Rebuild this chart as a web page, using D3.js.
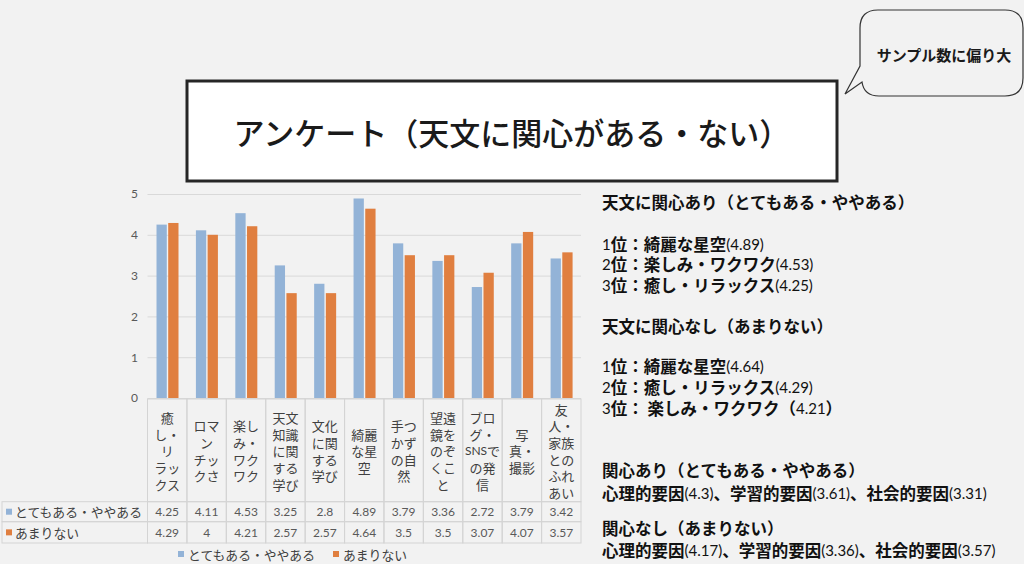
<!DOCTYPE html>
<html>
<head>
<meta charset="utf-8">
<script src="https://cdn.jsdelivr.net/npm/d3@7"></script>
<style>
  html, body { margin: 0; padding: 0; background: #f2f2f2; }
  svg { display: block; }
</style>
</head>
<body>
<svg id="chart" width="1024" height="564"></svg>
<script>
// survey data: average score per reason, by interest group
const categories = ["癒し・リラックス", "ロマンチックさ", "楽しみ・ワクワク", "天文知識に関する学び", "文化に関する学び",
  "綺麗な星空", "手つかずの自然", "望遠鏡をのぞくこと", "ブログ・SNSでの発信", "写真・撮影", "友人・家族とのふれあい"];
// how the category names wrap inside the table header
const labelLines = [
  ["癒", "し・", "リ", "ラッ", "クス"],
  ["ロマ", "ン", "チッ", "クさ"],
  ["楽し", "み・", "ワク", "ワク"],
  ["天文", "知識", "に関", "する", "学び"],
  ["文化", "に関", "する", "学び"],
  ["綺麗", "な星", "空"],
  ["手つ", "かず", "の自", "然"],
  ["望遠", "鏡を", "のぞ", "くこ", "と"],
  ["ブロ", "グ・", "SNSで", "の発", "信"],
  ["写", "真・", "撮影"],
  ["友", "人・", "家族", "との", "ふれ", "あい"]
];
const seriesNames = ["とてもある・ややある", "あまりない"];
const interested = [4.25, 4.11, 4.53, 3.25, 2.8, 4.89, 3.79, 3.36, 2.72, 3.79, 3.42];
const notInterested = [4.29, 4, 4.21, 2.57, 2.57, 4.64, 3.5, 3.5, 3.07, 4.07, 3.57];
const yTicks = [0, 1, 2, 3, 4, 5];

const titleText = "アンケート（天文に関心がある・ない）";
const bubbleText = "サンプル数に偏り大";
const notes = [
  { text: "天文に関心あり（とてもある・ややある）", y: 202 },
  { text: "1位：綺麗な星空(4.89)", y: 244 },
  { text: "2位：楽しみ・ワクワク(4.53)", y: 264 },
  { text: "3位：癒し・リラックス(4.25)", y: 285 },
  { text: "天文に関心なし（あまりない）", y: 326 },
  { text: "1位：綺麗な星空(4.64)", y: 366 },
  { text: "2位：癒し・リラックス(4.29)", y: 387 },
  { text: "3位： 楽しみ・ワクワク（4.21）", y: 408 },
  { text: "関心あり（とてもある・ややある）", y: 470 },
  { text: "心理的要因(4.3)、学習的要因(3.61)、社会的要因(3.31)", y: 493 },
  { text: "関心なし（あまりない）", y: 528 },
  { text: "心理的要因(4.17)、学習的要因(3.36)、社会的要因(3.57)", y: 550 }
];

const colors = ["#93b3d7", "#e07f40"];
const series = [interested, notInterested];
const cjk = "'Noto Sans CJK JP', 'Noto Sans', sans-serif";
const latin = "Lato, 'Noto Sans', sans-serif";

const svg = d3.select("#chart");
svg.append("rect").attr("width", 1024).attr("height", 564).attr("fill", "#f2f2f2");

// mixed text: Japanese runs in the CJK font, ascii runs in a narrower latin font
function addRuns(sel, str, cjkSize, latinSize, cjkWeight, latinWeight) {
  str.split(/([\x21-\x7E]+)/).filter(s => s.length).forEach(part => {
    const isLatin = /^[\x21-\x7E]+$/.test(part);
    sel.append("tspan")
      .attr("font-family", isLatin ? latin : cjk)
      .attr("font-size", isLatin ? latinSize : cjkSize)
      .attr("font-weight", isLatin ? latinWeight : cjkWeight)
      .text(part);
  });
}

// ---- chart geometry
const left = 147.5, right = 581;
const y = d3.scaleLinear().domain([0, 5]).range([398, 194]);
const x = d3.scaleBand().domain(d3.range(categories.length)).range([left, right]).padding(0);
const xs = d3.scaleBand().domain([0, 1]).range([9, 31]).paddingInner(0.12);

// gridlines
svg.append("g")
  .attr("transform", `translate(${left},0)`)
  .call(d3.axisLeft(y).tickValues(yTicks).tickSize(-(right - left)).tickFormat(""))
  .call(g => g.select(".domain").remove())
  .call(g => g.selectAll("line").attr("stroke", "#d9d9d9").attr("stroke-width", 1));

// y tick labels
svg.append("g")
  .attr("transform", `translate(138,0)`)
  .call(d3.axisLeft(y).tickValues(yTicks).tickSize(0).tickPadding(0).tickFormat(d3.format("d")))
  .call(g => g.select(".domain").remove())
  .call(g => g.selectAll("text").attr("font-family", latin).attr("font-size", 12).attr("fill", "#595959"));

// bars
series.forEach((vals, s) => {
  svg.append("g").selectAll("rect")
    .data(vals)
    .join("rect")
    .attr("x", (d, i) => x(i) + xs(s))
    .attr("width", xs.bandwidth())
    .attr("y", d => y(d))
    .attr("height", d => y(0) - y(d))
    .attr("fill", colors[s]);
});

// ---- data table
const tTop = 399, hBottom = 501.7, r1Bottom = 521.7, r2Bottom = 543;
const rowTops = [hBottom, r1Bottom];
const rowBottoms = [r1Bottom, r2Bottom];
const tableLeft = 2;
const border = "#d4d4d4";
const tg = svg.append("g");

// header cells
tg.selectAll("rect.hd")
  .data(categories)
  .join("rect")
  .attr("class", "hd")
  .attr("x", (d, i) => x(i))
  .attr("y", tTop)
  .attr("width", x.bandwidth())
  .attr("height", hBottom - tTop)
  .attr("fill", "none")
  .attr("stroke", border);

// header labels
const lineH = 16.7;
labelLines.forEach((lines, i) => {
  const cy = (tTop + hBottom) / 2;
  lines.forEach((ln, k) => {
    const t = tg.append("text")
      .attr("x", x(i) + x.bandwidth() / 2)
      .attr("y", cy + (k - (lines.length - 1) / 2) * lineH)
      .attr("text-anchor", "middle")
      .attr("dominant-baseline", "central")
      .attr("fill", "#404040");
    addRuns(t, ln, 13, 12, 400, 400);
  });
});

// value rows
series.forEach((vals, s) => {
  tg.append("rect")
    .attr("x", tableLeft).attr("y", rowTops[s])
    .attr("width", left - tableLeft).attr("height", rowBottoms[s] - rowTops[s])
    .attr("fill", "none").attr("stroke", border);
  tg.append("rect")
    .attr("x", 6).attr("y", (rowTops[s] + rowBottoms[s]) / 2 - 3)
    .attr("width", 6).attr("height", 6)
    .attr("fill", colors[s]);
  tg.append("text")
    .attr("x", 15).attr("y", (rowTops[s] + rowBottoms[s]) / 2)
    .attr("dominant-baseline", "central")
    .attr("font-family", cjk).attr("font-size", 12.8).attr("fill", "#404040")
    .text(seriesNames[s]);

  tg.selectAll(null)
    .data(vals)
    .join("rect")
    .attr("x", (d, i) => x(i)).attr("y", rowTops[s])
    .attr("width", x.bandwidth()).attr("height", rowBottoms[s] - rowTops[s])
    .attr("fill", "none").attr("stroke", border);
  tg.selectAll(null)
    .data(vals)
    .join("text")
    .attr("x", (d, i) => x(i) + x.bandwidth() / 2)
    .attr("y", (rowTops[s] + rowBottoms[s]) / 2)
    .attr("text-anchor", "middle")
    .attr("dominant-baseline", "central")
    .attr("font-family", latin).attr("font-size", 12).attr("fill", "#595959")
    .text(d => d);
});

// legend under the table
const legendX = [178, 333];
seriesNames.forEach((name, s) => {
  tg.append("rect")
    .attr("x", legendX[s]).attr("y", 551).attr("width", 6).attr("height", 6)
    .attr("fill", colors[s]);
  tg.append("text")
    .attr("x", legendX[s] + 10).attr("y", 554)
    .attr("dominant-baseline", "central")
    .attr("font-family", cjk).attr("font-size", 12.8).attr("fill", "#404040")
    .text(name);
});

// ---- title box
svg.append("rect")
  .attr("x", 187).attr("y", 81).attr("width", 650).attr("height", 100)
  .attr("fill", "#ffffff").attr("stroke", "#262626").attr("stroke-width", 3);
svg.append("text")
  .attr("x", 512).attr("y", 131)
  .attr("text-anchor", "middle").attr("dominant-baseline", "central")
  .attr("font-family", cjk).attr("font-size", 31).attr("font-weight", 500).attr("fill", "#1a1a1a")
  .text(titleText);

// ---- speech bubble
svg.append("path")
  .attr("d", "M878,10 H1005 Q1023,10 1023,28 V78 Q1023,96 1005,96 H879 Q864,96 862,82 L845,94 L860,66 V28 Q860,10 878,10 Z")
  .attr("fill", "#f2f2f2").attr("stroke", "#333").attr("stroke-width", 1.2);
svg.append("text")
  .attr("x", 944).attr("y", 54)
  .attr("text-anchor", "middle").attr("dominant-baseline", "central")
  .attr("font-family", cjk).attr("font-size", 15).attr("font-weight", 700).attr("fill", "#1a1a1a")
  .text(bubbleText);

// ---- right-hand notes
notes.forEach(n => {
  const t = svg.append("text")
    .attr("x", 602).attr("y", n.y)
    .attr("dominant-baseline", "central")
    .attr("fill", "#111");
  addRuns(t, n.text, 16.5, 15, 700, 400);
});
</script>
</body>
</html>
